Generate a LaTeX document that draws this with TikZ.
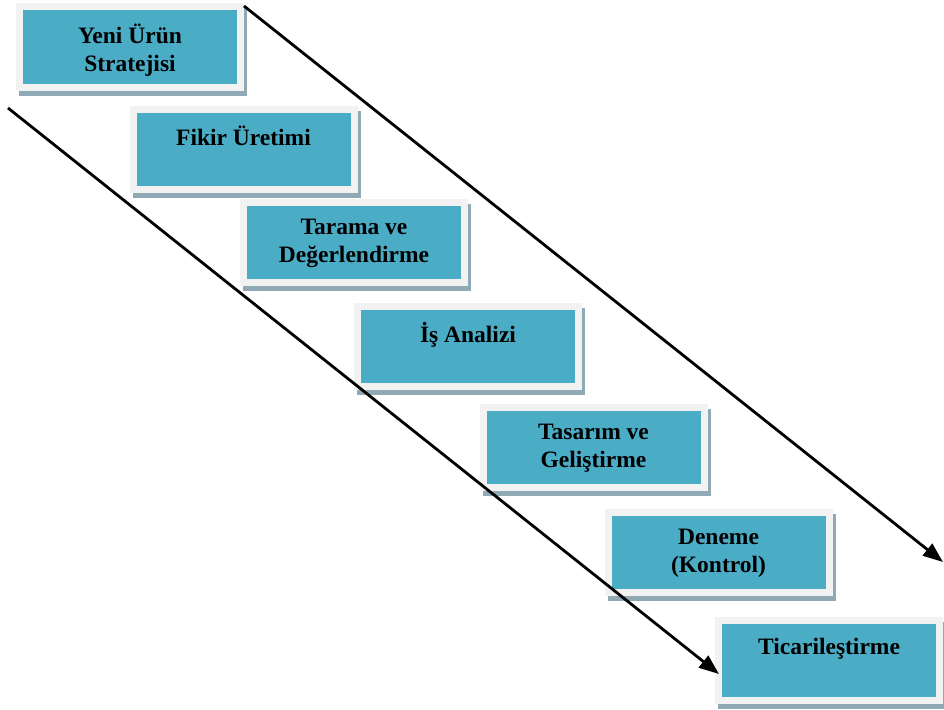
\documentclass[tikz,border=0pt]{standalone}
\usepackage{fontspec}
\setmainfont{Liberation Serif}
\usetikzlibrary{arrows.meta}
\definecolor{boxfill}{HTML}{4BACC6}
\definecolor{boxframe}{HTML}{F2F2F2}
\definecolor{boxshadow}{HTML}{8FA9B5}
\tikzset{
  stepbox/.style={rectangle, fill=boxfill, draw=boxframe, line width=7pt,
    minimum width=221pt, minimum height=80pt, inner sep=0pt,
    preaction={fill=boxshadow, draw=boxshadow, line width=7pt,
      transform canvas={xshift=3pt, yshift=-5pt}}},
  steplabel/.style={anchor=north, align=center, inner sep=0pt,
    font=\bfseries\fontsize{23.5}{28}\selectfont,
    execute at begin node={\rule{0pt}{18pt}}},
  flow/.style={line width=2.8pt, -{Triangle[length=20pt,width=15pt]}}
}
\begin{document}
\begin{tikzpicture}[x=1pt,y=-1pt]
\useasboundingbox (0,0) rectangle (944,709);

% process steps, each one a framed box with a drop shadow
\node[stepbox] (b1) at (130,47) {};
\node[stepbox] (b2) at (243.5,149) {};
\node[stepbox] (b3) at (354,242.5) {};
\node[stepbox] (b4) at (468,346) {};
\node[stepbox] (b5) at (593.5,447.5) {};
\node[stepbox] (b6) at (718.5,552.5) {};
\node[stepbox] (b7) at (829,660) {};

% step titles, set at the top of each box
\node[steplabel] (t1) at ([yshift=-20pt]b1.north) {Yeni Ürün\\Stratejisi};
\node[steplabel] (t2) at ([yshift=-20pt]b2.north) {Fikir Üretimi};
\node[steplabel] (t3) at ([yshift=-20pt]b3.north) {Tarama ve\\Değerlendirme};
\node[steplabel] (t4) at ([yshift=-20pt]b4.north) {İş Analizi};
\node[steplabel] (t5) at ([yshift=-20pt]b5.north) {Tasarım ve\\Geliştirme};
\node[steplabel] (t6) at ([yshift=-20pt]b6.north) {Deneme\\(Kontrol)};
\node[steplabel] (t7) at ([yshift=-20pt]b7.north) {Ticarileştirme};

% the two long diagonal arrows framing the staircase
\coordinate (r0) at (244,6);
\coordinate (r1) at (943,562);
\coordinate (l0) at (8,108);
\coordinate (l1) at (719,674);
\draw[flow] (r0) -- (r1);
\draw[flow] (l0) -- (l1);
\end{tikzpicture}
\end{document}
